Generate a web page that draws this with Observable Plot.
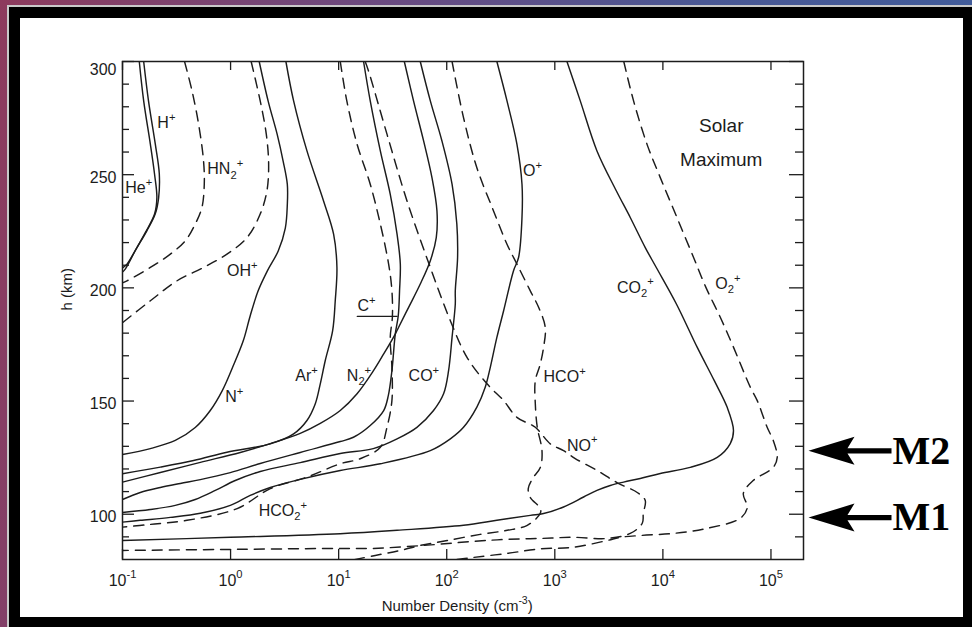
<!DOCTYPE html>
<html>
<head>
<meta charset="utf-8">
<script src="https://cdn.jsdelivr.net/npm/d3@7"></script>
<script src="https://cdn.jsdelivr.net/npm/@observablehq/plot@0.6"></script>
<style>
html,body{margin:0;padding:0;width:972px;height:627px;overflow:hidden;}
#page{position:relative;width:972px;height:627px;overflow:hidden;
  background:linear-gradient(100deg,#8d3b5d 0%,#6b4a80 35%,#4a5894 65%,#3e5d9c 100%);}
#panel{position:absolute;left:9px;top:7px;right:0;bottom:0;background:#fff;
  border-style:solid;border-color:#000;border-width:11px 9px 10px 11px;
  box-shadow:0 0 0 2px #c9c9c9;}
#chart{position:absolute;left:0;top:0;}
</style>
</head>
<body>
<div id="page"><div id="panel"></div><div id="chart"></div></div>
<script>
// ---- data: [number density (cm^-3), altitude (km)] ----
const hPlus = [[0.157,300],[0.174,282.6],[0.201,263.6],[0.219,250.4],[0.216,239.9],[0.201,232.7],[0.168,225.2],[0.136,217.8],[0.110,210.5],[0.1,208.8]];
const hePlus = [[0.143,300],[0.157,282.6],[0.181,263.5],[0.198,250.2],[0.208,239.9],[0.198,232.6],[0.163,224.5],[0.131,216.4],[0.106,208.3],[0.1,207]];
const nPlus = [[1.84,300],[2.23,282.4],[2.70,267.8],[3.07,255.8],[3.35,245.7],[3.35,236.9],[3.21,226.4],[2.76,216.3],[2.19,207.5],[1.80,198.7],[1.52,187.7],[1.31,176.6],[1.04,164.7],[0.838,154.6],[0.649,145.8],[0.471,138.3],[0.308,132.6],[0.181,129],[0.1,126.4]];
const arPlus = [[3.25,300],[3.83,282.6],[5.09,260.5],[7.25,238.4],[8.98,223.7],[9.64,209],[9.3,194.3],[8.8,181.1],[7.52,167.9],[6.76,157.6],[6.08,148.8],[5.09,141.4],[3.83,135.5],[2.33,131.1],[0.926,127.4],[0.455,123.7],[0.224,120.8],[0.1,117.9]];
const n2Plus = [[40.5,300],[49.3,282.6],[61.1,264.9],[73,248.7],[81.2,234],[80,222.2],[70.5,212],[56.9,201.7],[44.4,191.4],[35.8,182.5],[33.4,179.6],[26.1,170.8],[21,163.4],[14.8,153.2],[10.35,145.8],[6.76,140.1],[4.41,135.7],[2.33,131.2],[1.23,127.3],[0.525,122.9],[0.224,118.4],[0.1,114.2]];
const cPlus = [[17,300],[19.6,282.6],[24.3,260.5],[30,241.4],[34.7,223.7],[37.2,210.5],[36.6,198.7],[35.6,187.7],[33.4,179.6],[31.1,163.4],[28.8,152.4],[26.1,145.8],[19.6,139.2],[13.7,134],[10.35,132.1],[4.41,127.3],[1.88,122.4],[0.994,118.4],[0.525,115.3],[0.343,113.6],[0.224,111.8],[0.146,109.6],[0.1,106.5]];
const cPlusLeader = [[14.9,187.4],[34.7,187.4]];
const coPlus = [[56.9,300],[70.5,282.6],[90.3,264.9],[112,245.8],[124,228.2],[126,213.4],[120,198.7],[120,192.9],[112,178.1],[104,163.4],[93.5,153.2],[75.5,145.8],[53,138.4],[34.7,133.3],[20.9,129],[10.35,126.8],[4.41,122.8],[1.88,118.9],[1.105,114.9],[0.722,110.5],[0.471,106.5],[0.308,103.9],[0.181,102.1],[0.1,100.8]];
const oPlus = [[291,300],[361,282.6],[446,263.5],[497,245.8],[497,231.1],[462,213.4],[415,207.6],[336,189.9],[291,178.1],[253,164.9],[227,156.1],[190,147.3],[143,138.4],[108,133.3],[70.5,128.1],[24.3,122.3],[10.35,119.3],[4.41,115.4],[2.33,111.8],[1.52,108.3],[0.994,103.9],[0.525,100.4],[0.277,98.6],[0.146,97.3],[0.1,96.5]];
const co2Plus = [[1295,300],[1720,282.6],[2455,260.5],[3705,242.9],[4989,231.1],[6868,217.8],[8690,209],[13300,193],[20800,173.7],[29900,159],[39440,147.1],[45000,137],[42020,131.2],[31840,125.1],[17910,120.7],[9460,118],[6176,115.8],[4329,114.2],[3258,112.7],[2455,110.5],[1847,107.6],[1205,103.2],[787,100.3],[593,99.5],[291,97.3],[143,95.1],[34.7,92.9],[10.35,91.4],[0.994,89.8],[0.1,88.4]];
const hn2Plus = [[0.375,300],[0.44,287],[0.506,272.3],[0.562,256.1],[0.571,245.8],[0.543,235.5],[0.471,228.2],[0.381,220.8],[0.277,214.9],[0.181,209],[0.11,203.1],[0.1,202.2]];
const ohPlus = [[1.55,300],[1.88,282.6],[2.14,267.9],[2.25,254.6],[2.17,242.9],[1.88,232.6],[1.42,222.2],[0.926,214.9],[0.562,209],[0.319,203.1],[0.181,194.3],[0.1,184.6]];
const hco2Plus = [[10.35,300],[11.9,282.6],[14.8,263.5],[19.6,245.8],[24.3,228.2],[29,210.5],[31.1,198.7],[31.4,187],[30,178.1],[31.1,164.9],[31.1,150.2],[28,138.4],[24.3,129.6],[15.8,124.5],[10.35,122.3],[5.09,116.4],[2.33,111.3],[1.15,102.5],[0.395,97.3],[0.181,95.5],[0.1,94.3]];
const noPlus = [[17.6,300],[18.9,295.8],[28,267.9],[42.9,238.4],[70.5,209],[108,185.5],[154,169.3],[236,157.6],[336,150.2],[446,142.8],[660,138.4],[908,131.1],[1205,128.1],[1545,124.6],[2470,119.3],[3787,113.9],[5793,109.6],[6868,106.1],[6584,100.4],[6444,96],[4989,91.5],[3057,89.3],[1482,89.8],[734,89.3],[363,88.9],[176,88],[60.7,86.2],[20.9,84.9],[10.35,84.9],[1.23,84.5],[0.1,84]];
const hcoPlus = [[112,300],[143,275.2],[190,253.1],[271,234],[361,219.3],[446,210.5],[593,198.7],[708,191.4],[816,182.5],[787,173.7],[734,166.4],[660,159],[660,148.8],[688,138.4],[761,128.1],[734,120.6],[632,116.2],[568,111.3],[593,107.4],[734,102.6],[734,100.4],[556,95.1],[363,92.9],[204,91.1],[101,88.4],[56.9,86.2],[37.2,84],[21.8,81.8],[12.8,79.6]];
const o2Plus = [[4345,300],[5354,282.6],[7122,263.5],[9460,248.7],[13490,231.1],[19230,213.4],[25000,200.2],[33970,187],[45070,173.7],[64410,156.1],[74650,150.2],[92400,138.3],[105000,132.6],[114300,125.1],[105000,120.7],[68500,114.9],[55500,109.2],[60400,103],[52000,98.2],[25740,93.8],[12470,91.5],[6176,90.6],[4034,89.8],[3057,88.4],[1482,85.4],[734,84.7],[363,82.7],[176,80.9],[108,79.6]];

const labelNames = ["H⁺","He⁺","HN₂⁺","OH⁺","C⁺","N⁺","Ar⁺","N₂⁺","CO⁺","O⁺","HCO⁺","NO⁺","HCO₂⁺","CO₂⁺","O₂⁺"];
const labelDensity = [0.21,0.106,0.609,0.926,14.96,0.893,3.97,11.9,44.4,507,787,1295,1.82,3758,30530];
const labelAltitude = [273,244.3,252.4,207.6,191.9,151.8,161.2,161.2,161.2,251.7,160.8,130.4,101.5,200.2,201.8];

const noteLines = ["Solar","Maximum"];
const noteDensity = [34700,34700];
const noteAltitude = [271.5,256.7];

const yMinorTicks = [90,110,120,130,140,160,170,180,190,210,220,230,240,260,270,280,290];
const yMajorTicks = [100,150,200,250,300];
const xDecades = [0.1,1,10,100,1000,10000,100000];
const xTickLabels = ["10⁻¹","10⁰","10¹","10²","10³","10⁴","10⁵"];

const markerNames = ["M2","M1"];
const markerAltitude = [128,98.5];

// ---- chart ----
const W = 972, H = 627, mL = 122, mR = 169, mT = 61, mB = 68;
const iw = W - mL - mR, ih = H - mT - mB;
const ink = "#1c1c1c";
const sans = "'Liberation Sans', Arial, Helvetica, sans-serif";

const solid = [hPlus, hePlus, nPlus, arPlus, n2Plus, cPlus, coPlus, oPlus, co2Plus];
const dashed = [hn2Plus, ohPlus, hco2Plus, noPlus, hcoPlus, o2Plus];
const lineOpts = {x: d => d[0], y: d => d[1], curve: "catmull-rom", stroke: ink, strokeWidth: 1.45, clip: true};

const leftArrow = {draw(ctx) {
  ctx.moveTo(0, 0);
  ctx.lineTo(46, -14);
  ctx.lineTo(39, -2.7);
  ctx.lineTo(83, -2.7);
  ctx.lineTo(83, 2.7);
  ctx.lineTo(39, 2.7);
  ctx.lineTo(46, 14);
  ctx.closePath();
}};

const chart = Plot.plot({
  width: W, height: H,
  marginLeft: mL, marginRight: mR, marginTop: mT, marginBottom: mB,
  x: {type: "log", domain: [0.1, 2e5], axis: null},
  y: {domain: [80, 300], axis: null},
  style: {background: "transparent", fontFamily: sans, color: ink},
  marks: [
    ...solid.map(s => Plot.line(s, lineOpts)),
    ...dashed.map(s => Plot.line(s, {...lineOpts, strokeDasharray: "10,7"})),
    Plot.line(cPlusLeader, {x: d => d[0], y: d => d[1], stroke: ink, strokeWidth: 1.45}),
    // ticks (inward)
    Plot.tickY(yMinorTicks, {y: d => d, stroke: ink, strokeWidth: 1.3, insetRight: iw - 7}),
    Plot.tickY(yMajorTicks, {y: d => d, stroke: ink, strokeWidth: 1.3, insetRight: iw - 12}),
    Plot.tickY(yMinorTicks, {y: d => d, stroke: ink, strokeWidth: 1.3, insetLeft: iw - 8}),
    Plot.tickY(yMajorTicks, {y: d => d, stroke: ink, strokeWidth: 1.3, insetLeft: iw - 14}),
    Plot.tickX(xDecades, {x: d => d, stroke: ink, strokeWidth: 1.3, insetTop: ih - 10}),
    Plot.tickX(xDecades, {x: d => d, stroke: ink, strokeWidth: 1.3, insetBottom: ih - 9}),
    Plot.frame({stroke: ink, strokeWidth: 1.5}),
    // tick labels
    Plot.text(yMajorTicks.filter(v => v < 300), {y: d => d, text: d => String(d), frameAnchor: "left", textAnchor: "end", dx: -6, dy: 3, fontSize: 16, fill: ink}),
    Plot.text(yMajorTicks.filter(v => v === 300), {y: d => d, text: d => String(d), frameAnchor: "left", textAnchor: "end", dx: -6, dy: 8, fontSize: 16, fill: ink}),
    Plot.text(xDecades, {x: d => d, text: (d, i) => xTickLabels[i], frameAnchor: "bottom", dy: 26, fontSize: 16, fill: ink}),
    // axis titles
    Plot.text(["Number Density (cm⁻³)"], {x: 125, frameAnchor: "bottom", dy: 51, fontSize: 15, fill: ink}),
    Plot.text(["h (km)"], {y: 190, frameAnchor: "left", dx: -55, rotate: -90, fontSize: 15, fill: ink}),
    // species labels
    Plot.text(labelNames, {x: labelDensity, y: labelAltitude, text: d => d, textAnchor: "start", fontSize: 16, fill: ink}),
    Plot.text(noteLines, {x: noteDensity, y: noteAltitude, text: d => d, fontSize: 19, fill: ink}),
    // M1 / M2 markers
    Plot.dot(markerAltitude, {y: d => d, frameAnchor: "right", dx: 5, symbol: leftArrow, fill: "#000", stroke: "none", r: 10}),
    Plot.text(markerNames, {y: markerAltitude, text: d => d, frameAnchor: "right", dx: 89, textAnchor: "start",
      fontFamily: "'Liberation Serif', 'Times New Roman', serif", fontWeight: "bold", fontSize: 40, fill: "#000"})
  ]
});
document.getElementById("chart").appendChild(chart);

// render Unicode super/subscripts as raised/lowered tspans (same text content)
const SUP = {"⁺": "+", "⁻": "-", "⁰": "0", "¹": "1", "²": "2", "³": "3", "⁴": "4", "⁵": "5"};
const SUB = {"₂": "2"};
chart.querySelectorAll("text").forEach(t => {
  const s = t.textContent;
  const chars = [...s];
  if (!chars.some(c => SUP[c] || SUB[c])) return;
  const fs = parseFloat(getComputedStyle(t).fontSize) || 16;
  while (t.firstChild) t.removeChild(t.firstChild);
  let offset = 0, i = 0;
  while (i < chars.length) {
    const kind = SUP[chars[i]] ? "sup" : SUB[chars[i]] ? "sub" : "n";
    let str = "";
    while (i < chars.length && (SUP[chars[i]] ? "sup" : SUB[chars[i]] ? "sub" : "n") === kind) {
      str += SUP[chars[i]] || SUB[chars[i]] || chars[i];
      i++;
    }
    const target = kind === "sup" ? -0.45 * fs : kind === "sub" ? 0.27 * fs : 0;
    const ts = document.createElementNS("http://www.w3.org/2000/svg", "tspan");
    ts.setAttribute("dy", (target - offset).toFixed(2));
    if (kind !== "n") ts.setAttribute("font-size", (0.7 * fs).toFixed(1));
    ts.textContent = str;
    t.appendChild(ts);
    offset = target;
  }
});
</script>
</body>
</html>
